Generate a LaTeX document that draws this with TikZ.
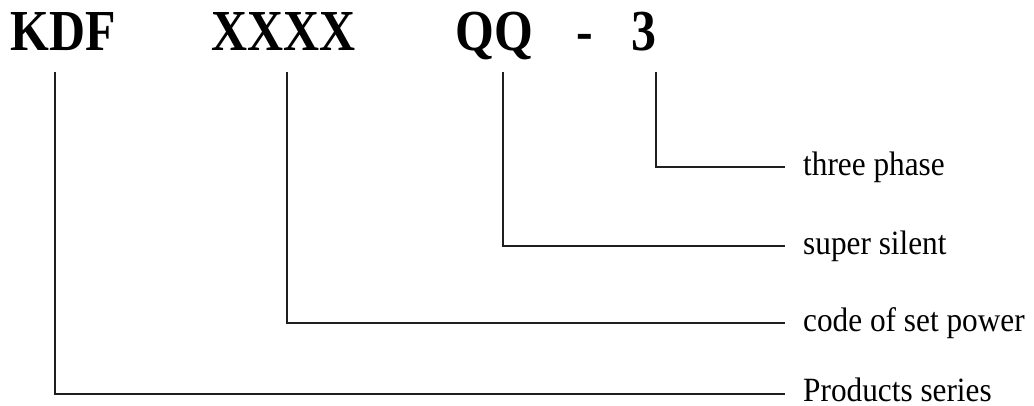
\documentclass[tikz,border=0pt]{standalone}
\usepackage{graphicx}
\usepackage{fontspec}
\setmainfont{Liberation Serif}
\newcommand{\hcond}[1]{\scalebox{0.86}[1]{#1}}
\newcommand{\lcond}[1]{\scalebox{0.92}[1]{#1}}
\begin{document}
\begin{tikzpicture}[x=1pt,y=-1pt,
  hdr/.style={anchor=base west,inner sep=0pt,font=\fontsize{58}{58}\selectfont\bfseries},
  lbl/.style={anchor=base west,inner sep=0pt,font=\fontsize{34}{34}\selectfont},
  conn/.style={draw=black!88,line width=2pt,line cap=butt,line join=miter}]
\useasboundingbox (0,0) rectangle (1034,405);
% header
\node[hdr] (kdf) at (10,50) {\hcond{KDF}};
\node[hdr] (xxxx) at (211,50) {\hcond{XXXX}};
\node[hdr] (qq) at (455,50) {\hcond{QQ}};
\node[hdr] (dash) at (576,50) {\hcond{-}};
\node[hdr] (three) at (631,50) {\hcond{3}};
% labels
\node[lbl] (l3) at (803,175) {\lcond{three phase}};
\node[lbl] (lq) at (803,254) {\lcond{super silent}};
\node[lbl] (lx) at (803,331) {\lcond{code of set power}};
\node[lbl,text depth=0pt] (lk) at (803,401) {\lcond{Products series}};
% connector ends
\coordinate (t3) at (656,72);
\coordinate (tq) at (503,72);
\coordinate (tx) at (287,72);
\coordinate (tk) at (55,72);
\coordinate (e3) at (785,166.5);
\coordinate (eq) at (785,245.5);
\coordinate (ex) at (785,323);
\coordinate (ek) at (785,394);
\draw[conn] (t3) |- (e3);
\draw[conn] (tq) |- (eq);
\draw[conn] (tx) |- (ex);
\draw[conn] (tk) |- (ek);
\end{tikzpicture}
\end{document}
